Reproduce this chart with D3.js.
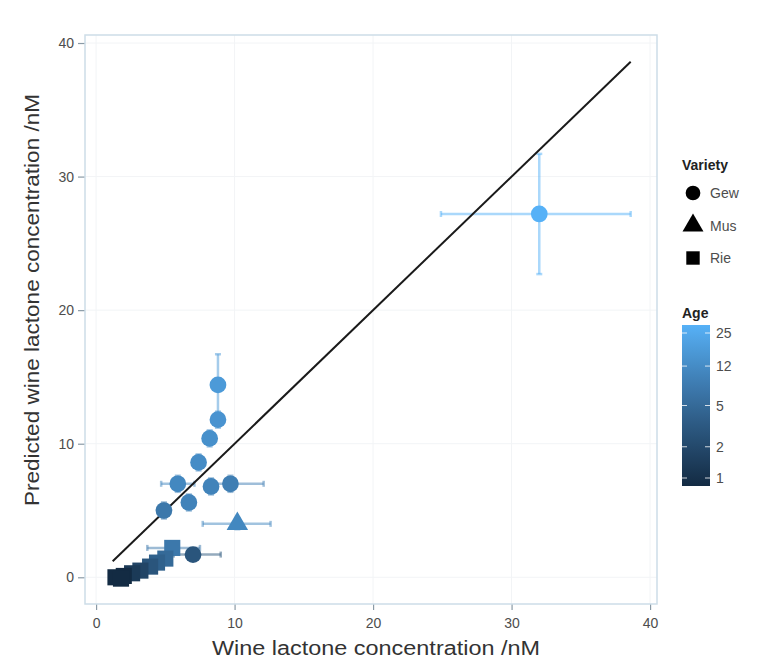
<!DOCTYPE html>
<html><head><meta charset="utf-8">
<script src="https://cdn.jsdelivr.net/npm/d3@7"></script>
<style>body{margin:0;background:#fff;} text{font-family:"Liberation Sans",Arial,sans-serif;}</style>
</head><body><svg id="c" width="762" height="659"></svg>
<script>
// Data
const variety = ["Gew","Gew","Gew","Gew","Gew","Gew","Gew","Gew","Gew","Gew","Gew","Mus","Rie","Rie","Rie","Rie","Rie","Rie","Rie","Rie","Rie"];
const measured  = [32.0, 8.8, 8.8, 8.2, 7.4, 5.9, 8.3, 9.7, 6.7, 4.9, 7.0, 10.2, 5.5, 5.0, 4.4, 3.9, 3.2, 2.6, 2.0, 1.4, 1.8];
const measLo    = [24.9, 8.4, 8.4, 7.8, 7.0, 4.7, 7.9, 8.2, 6.3, 4.5, 5.6, 7.7, 3.7, 4.6, 4.0, 3.6, 2.9, 2.4, 1.8, 1.2, 1.6];
const measHi    = [38.6, 9.2, 9.2, 8.6, 7.8, 7.1, 8.7, 12.1, 7.1, 5.3, 9.0, 12.6, 7.5, 5.4, 4.8, 4.2, 3.5, 2.8, 2.2, 1.6, 2.0];
const predicted = [27.2, 14.4, 11.8, 10.4, 8.6, 7.0, 6.8, 7.0, 5.6, 5.0, 1.7, 4.0, 2.2, 1.4, 1.1, 0.8, 0.5, 0.3, 0.1, 0.0, -0.1];
const predLo    = [22.7, 12.0, 11.2, 9.8, 8.0, 6.4, 6.2, 6.4, 5.0, 4.4, 1.3, 3.6, 1.8, 1.1, 0.8, 0.5, 0.3, 0.1, -0.1, -0.2, -0.3];
const predHi    = [31.7, 16.7, 12.4, 11.0, 9.2, 7.6, 7.4, 7.6, 6.2, 5.6, 2.1, 4.4, 2.6, 1.7, 1.4, 1.1, 0.7, 0.5, 0.3, 0.2, 0.1];
const age       = [25, 15, 13, 12, 11, 10, 9, 8, 9, 7, 3, 10, 7, 5, 4, 3, 2, 1.5, 1, 1, 1];
const xTicks = [0, 10, 20, 30, 40];
const yTicks = [0, 10, 20, 30, 40];
const varieties = ["Gew", "Mus", "Rie"];
const ageBreaks = [1, 2, 5, 12, 25];
const lineRange = [1.2, 38.6];

const svg = d3.select("#c");
const L = 85, R = 657, T = 35, B = 604;
const x = d3.scaleLinear().domain([-0.8, 40.5]).range([L, R]);
const y = d3.scaleLinear().domain([-2.0, 40.6]).range([B, T]);
const col = d3.scaleLog().domain([1, 25]).range(["#132B43", "#56B1F7"]).interpolate(d3.interpolateHcl);

// grid
const g = svg.append("g");
g.selectAll(".gx").data(xTicks).join("line").attr("x1", d => x(d)).attr("x2", d => x(d)).attr("y1", T).attr("y2", B).attr("stroke", "#f2f4f6").attr("stroke-width", 1);
g.selectAll(".gy").data(yTicks).join("line").attr("x1", L).attr("x2", R).attr("y1", d => y(d)).attr("y2", d => y(d)).attr("stroke", "#f2f4f6").attr("stroke-width", 1);

// axes
const xa = svg.append("g").attr("transform", `translate(0,${B})`).call(d3.axisBottom(x).tickValues(xTicks).tickSize(6).tickPadding(8));
const ya = svg.append("g").attr("transform", `translate(${L},0)`).call(d3.axisLeft(y).tickValues(yTicks).tickSize(7).tickPadding(4));
[xa, ya].forEach(a => {
  a.select(".domain").remove();
  a.selectAll(".tick line").attr("stroke", "#8a9aa6").attr("stroke-width", 1.2);
  a.selectAll(".tick text").attr("fill", "#4d4d4d").style("font-size", "14px");
});

// panel border
svg.append("rect").attr("x", L).attr("y", T).attr("width", R - L).attr("height", B - T).attr("fill", "none").attr("stroke", "#cddde8").attr("stroke-width", 1.5);

const idx = d3.range(measured.length);
// error bars
const eb = svg.append("g");
idx.forEach(i => {
  const c = col(age[i]);
  const gg = eb.append("g").attr("stroke", c).attr("stroke-opacity", 0.5).attr("stroke-width", 2.5);
  const py = y(predicted[i]), px = x(measured[i]);
  gg.append("line").attr("x1", x(measLo[i])).attr("x2", x(measHi[i])).attr("y1", py).attr("y2", py);
  gg.append("line").attr("x1", x(measLo[i])).attr("x2", x(measLo[i])).attr("y1", py - 3).attr("y2", py + 3);
  gg.append("line").attr("x1", x(measHi[i])).attr("x2", x(measHi[i])).attr("y1", py - 3).attr("y2", py + 3);
  gg.append("line").attr("x1", px).attr("x2", px).attr("y1", y(predLo[i])).attr("y2", y(predHi[i]));
  gg.append("line").attr("x1", px - 3).attr("x2", px + 3).attr("y1", y(predLo[i])).attr("y2", y(predLo[i]));
  gg.append("line").attr("x1", px - 3).attr("x2", px + 3).attr("y1", y(predHi[i])).attr("y2", y(predHi[i]));
});

// identity line
svg.append("line").attr("x1", x(lineRange[0])).attr("y1", y(lineRange[0])).attr("x2", x(lineRange[1])).attr("y2", y(lineRange[1]))
  .attr("stroke", "#1a1a1a").attr("stroke-width", 2);

// points
const sym = { Gew: d3.symbolCircle, Mus: d3.symbolTriangle, Rie: d3.symbolSquare };
const sz = { Gew: 220, Mus: 200, Rie: 260 };
svg.append("g").selectAll("path").data(idx).join("path")
  .attr("d", i => d3.symbol().type(sym[variety[i]]).size(sz[variety[i]])())
  .attr("transform", i => `translate(${x(measured[i])},${y(predicted[i])})`)
  .attr("fill", i => col(age[i]));

// axis titles
svg.append("text").attr("x", 376).attr("y", 655).attr("text-anchor", "middle").style("font-size", "20px").attr("fill", "#333")
  .attr("textLength", 328).attr("lengthAdjust", "spacingAndGlyphs").text("Wine lactone concentration /nM");
svg.append("text").attr("transform", `translate(39,300) rotate(-90)`).attr("text-anchor", "middle").style("font-size", "20px").attr("fill", "#333")
  .attr("textLength", 412).attr("lengthAdjust", "spacingAndGlyphs").text("Predicted wine lactone concentration /nM");

// legend: Variety
const lg = svg.append("g");
lg.append("text").attr("x", 682).attr("y", 170).style("font-size", "14px").style("font-weight", "bold").attr("fill", "#222").text("Variety");
const lsz = { Gew: 170, Mus: 190, Rie: 180 };
varieties.forEach((v, k) => {
  const cyy = 193 + k * 32.5;
  lg.append("path").attr("d", d3.symbol().type(sym[v]).size(lsz[v])()).attr("transform", `translate(693,${cyy})`).attr("fill", "#000");
  lg.append("text").attr("x", 710).attr("y", cyy + 5).style("font-size", "14px").attr("fill", "#4d4d4d").text(v);
});

// legend: Age colourbar
lg.append("text").attr("x", 682).attr("y", 318).style("font-size", "14px").style("font-weight", "bold").attr("fill", "#222").text("Age");
const cbTop = 325, cbBot = 486;
const cy = d3.scaleLog().domain([1, 25]).range([478, 333]);
const defs = svg.append("defs");
const gr = defs.append("linearGradient").attr("id", "agegrad").attr("x1", 0).attr("y1", 1).attr("x2", 0).attr("y2", 0);
d3.range(0, 1.001, 0.1).forEach(t => {
  const a = Math.exp(Math.log(25) * t);
  gr.append("stop").attr("offset", t).attr("stop-color", col(a));
});
lg.append("rect").attr("x", 682).attr("y", cbTop).attr("width", 28).attr("height", cbBot - cbTop).attr("fill", "url(#agegrad)");
ageBreaks.forEach(b => {
  lg.append("line").attr("x1", 682).attr("x2", 687).attr("y1", cy(b)).attr("y2", cy(b)).attr("stroke", "#fff").attr("stroke-width", 0.8);
  lg.append("line").attr("x1", 705).attr("x2", 710).attr("y1", cy(b)).attr("y2", cy(b)).attr("stroke", "#fff").attr("stroke-width", 0.8);
  lg.append("text").attr("x", 716).attr("y", cy(b) + 5).style("font-size", "14px").attr("fill", "#4d4d4d").text(b);
});
</script></body></html>
